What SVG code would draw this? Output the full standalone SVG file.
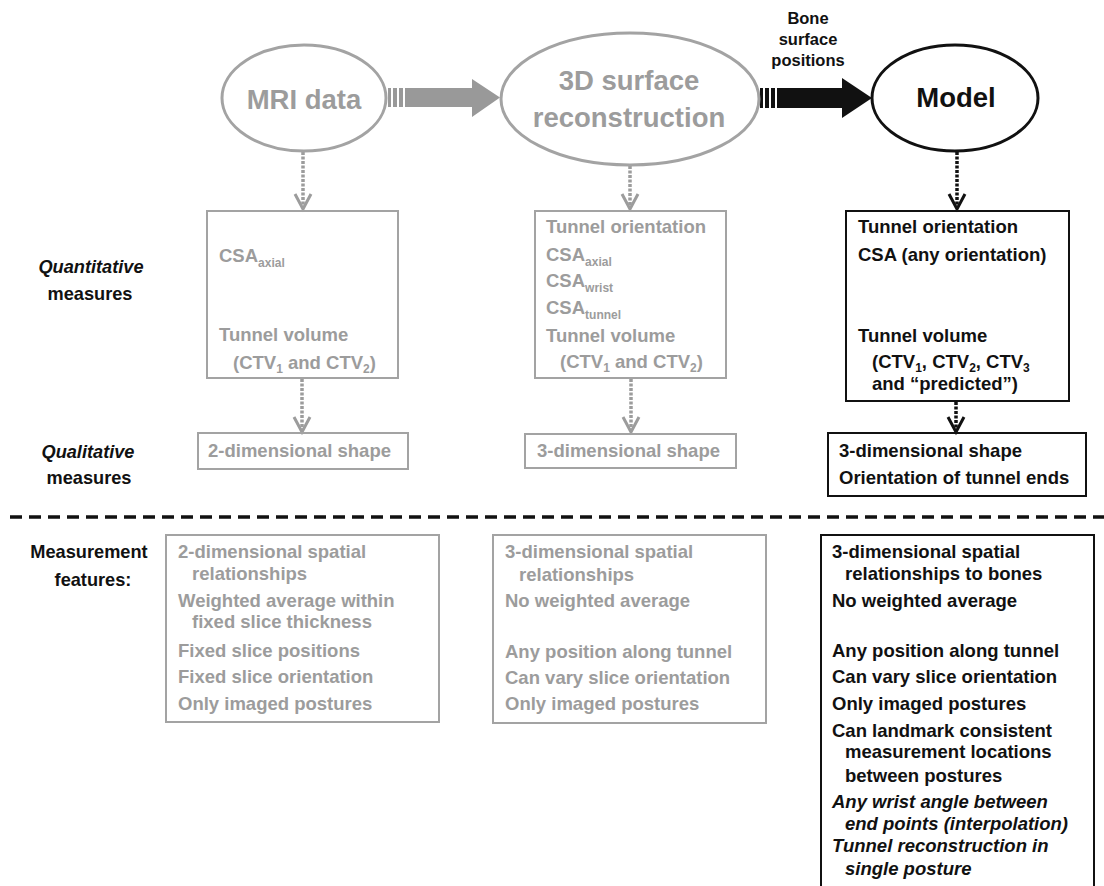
<svg xmlns="http://www.w3.org/2000/svg" width="1104" height="886" viewBox="0 0 1104 886">
<style>
text{font-family:"Liberation Sans",Arial,sans-serif;font-weight:bold;}
.g{fill:#9c9c9c;}
.k{fill:#111;}
.big{font-size:27.5px;}
.t{font-size:18.5px;}
.lab{font-size:18.2px;fill:#111;text-anchor:middle;}
.sub{font-size:12px;}
.it{font-style:italic;}
.gbox{fill:none;stroke:#a3a3a3;stroke-width:2;}
.kbox{fill:none;stroke:#111;stroke-width:2;}
.gell{fill:#fff;stroke:#a3a3a3;stroke-width:3;}
.kell{fill:#fff;stroke:#111;stroke-width:3;}
.gdot{stroke:#9c9c9c;stroke-width:3.5;stroke-dasharray:3 1.5;fill:none;}
.kdot{stroke:#111;stroke-width:3.5;stroke-dasharray:3 1.5;fill:none;}
.gv{stroke:#9c9c9c;stroke-width:3;fill:none;stroke-linejoin:miter;}
.kv{stroke:#111;stroke-width:3;fill:none;stroke-linejoin:miter;}
</style>

<g id="connectors">
  <g id="arrow-mri-3d" fill="#999">
    <rect x="388" y="88" width="3" height="19"/>
    <rect x="393" y="88" width="4" height="19"/>
    <rect x="399" y="88" width="4" height="19"/>
    <path d="M405 88 H472 V79 L500 97.5 L472 117 V107 H405 Z"/>
  </g>
  <g id="arrow-3d-model" fill="#111">
    <rect x="760" y="88" width="3" height="20"/>
    <rect x="765" y="88" width="4" height="20"/>
    <rect x="771" y="88" width="4" height="20"/>
    <path d="M777 88 H842 V78 L872 98 L842 118 V108 H777 Z"/>
  </g>
  <path class="gdot" d="M303 152 V208"/>
  <path class="gv" d="M295 194 L303 209 L311 194"/>
  <path class="gdot" d="M630 166 V208"/>
  <path class="gv" d="M622 194 L630 209 L638 194"/>
  <path class="kdot" d="M957 152 V208"/>
  <path class="kv" d="M949 194 L957 209 L965 194"/>
  <path class="gdot" d="M302 379 V431"/>
  <path class="gv" d="M294 417 L302 432 L310 417"/>
  <path class="gdot" d="M631 379 V431"/>
  <path class="gv" d="M623 417 L631 432 L639 417"/>
  <path class="kdot" d="M956 402 V430"/>
  <path class="kv" d="M948 417 L956 432 L964 417"/>
</g>

<g id="label-bone">
  <text class="k" font-size="16.5" text-anchor="middle" x="808" y="24">Bone</text>
  <text class="k" font-size="16.5" text-anchor="middle" x="808" y="45">surface</text>
  <text class="k" font-size="16.5" text-anchor="middle" x="808" y="66">positions</text>
</g>

<g id="node-mri">
  <ellipse class="gell" cx="304" cy="98" rx="82" ry="53"/>
  <text class="g big" text-anchor="middle" x="304" y="109">MRI data</text>
</g>
<g id="node-3d">
  <ellipse class="gell" cx="630" cy="99" rx="129" ry="66"/>
  <text class="g big" text-anchor="middle" x="629" y="90">3D surface</text>
  <text class="g big" text-anchor="middle" x="629" y="127">reconstruction</text>
</g>
<g id="node-model">
  <ellipse class="kell" cx="955" cy="98" rx="83" ry="53"/>
  <text class="k big" text-anchor="middle" x="956" y="107">Model</text>
</g>

<g id="row-labels">
  <text class="lab it" x="91" y="273">Quantitative</text>
  <text class="lab" x="90" y="300">measures</text>
  <text class="lab it" x="88" y="458">Qualitative</text>
  <text class="lab" x="89" y="484">measures</text>
  <text class="lab" x="89" y="558">Measurement</text>
  <text class="lab" x="93" y="586">features:</text>
</g>

<g id="quant-mri">
  <rect class="gbox" x="207" y="211" width="191" height="167"/>
  <text class="g t" x="219" y="262">CSA<tspan class="sub" dy="5">axial</tspan></text>
  <text class="g t" x="219" y="341">Tunnel volume</text>
  <text class="g t" x="233" y="369">(CTV<tspan class="sub" dy="4">1</tspan><tspan dy="-4"> and CTV</tspan><tspan class="sub" dy="4">2</tspan><tspan dy="-4">)</tspan></text>
</g>

<g id="quant-3d">
  <rect class="gbox" x="535" y="211" width="191" height="167"/>
  <text class="g t" x="546" y="233">Tunnel orientation</text>
  <text class="g t" x="546" y="261">CSA<tspan class="sub" dy="5">axial</tspan></text>
  <text class="g t" x="546" y="287">CSA<tspan class="sub" dy="5">wrist</tspan></text>
  <text class="g t" x="546" y="314">CSA<tspan class="sub" dy="5">tunnel</tspan></text>
  <text class="g t" x="546" y="342">Tunnel volume</text>
  <text class="g t" x="560" y="368">(CTV<tspan class="sub" dy="4">1</tspan><tspan dy="-4"> and CTV</tspan><tspan class="sub" dy="4">2</tspan><tspan dy="-4">)</tspan></text>
</g>

<g id="quant-model">
  <rect class="kbox" x="846" y="211" width="223" height="190"/>
  <text class="k t" x="858" y="233">Tunnel orientation</text>
  <text class="k t" x="858" y="261">CSA (any orientation)</text>
  <text class="k t" x="858" y="342">Tunnel volume</text>
  <text class="k t" x="872" y="368">(CTV<tspan class="sub" dy="4">1</tspan><tspan dy="-4">, CTV</tspan><tspan class="sub" dy="4">2</tspan><tspan dy="-4">, CTV</tspan><tspan class="sub" dy="4">3</tspan></text>
  <text class="k t" x="872" y="390">and “predicted”)</text>
</g>

<g id="qual-mri">
  <rect class="gbox" x="198" y="433" width="210" height="36"/>
  <text class="g t" x="208" y="457">2-dimensional shape</text>
</g>
<g id="qual-3d">
  <rect class="gbox" x="525" y="434" width="211" height="34"/>
  <text class="g t" x="537" y="457">3-dimensional shape</text>
</g>
<g id="qual-model">
  <rect class="kbox" x="828" y="433" width="258" height="63"/>
  <text class="k t" x="839" y="457">3-dimensional shape</text>
  <text class="k t" x="839" y="484">Orientation of tunnel ends</text>
</g>

<line id="separator" x1="10" y1="517" x2="1104" y2="517" stroke="#111" stroke-width="3.5" stroke-dasharray="12 7"/>

<g id="features-mri">
  <rect class="gbox" x="166" y="535" width="273" height="187"/>
  <text class="g t" x="178" y="558">2-dimensional spatial</text>
  <text class="g t" x="192" y="580">relationships</text>
  <text class="g t" x="178" y="607">Weighted average within</text>
  <text class="g t" x="192" y="628">fixed slice thickness</text>
  <text class="g t" x="178" y="657">Fixed slice positions</text>
  <text class="g t" x="178" y="683">Fixed slice orientation</text>
  <text class="g t" x="178" y="710">Only imaged postures</text>
</g>

<g id="features-3d">
  <rect class="gbox" x="493" y="535" width="273" height="188"/>
  <text class="g t" x="505" y="558">3-dimensional spatial</text>
  <text class="g t" x="519" y="581">relationships</text>
  <text class="g t" x="505" y="607">No weighted average</text>
  <text class="g t" x="505" y="658">Any position along tunnel</text>
  <text class="g t" x="505" y="684">Can vary slice orientation</text>
  <text class="g t" x="505" y="710">Only imaged postures</text>
</g>

<g id="features-model">
  <rect class="kbox" x="821" y="535" width="273" height="400"/>
  <text class="k t" x="832" y="558">3-dimensional spatial</text>
  <text class="k t" x="845" y="580">relationships to bones</text>
  <text class="k t" x="832" y="607">No weighted average</text>
  <text class="k t" x="832" y="657">Any position along tunnel</text>
  <text class="k t" x="832" y="683">Can vary slice orientation</text>
  <text class="k t" x="832" y="710">Only imaged postures</text>
  <text class="k t" x="832" y="737">Can landmark consistent</text>
  <text class="k t" x="845" y="758">measurement locations</text>
  <text class="k t" x="845" y="782">between postures</text>
  <text class="k t it" x="832" y="808">Any wrist angle between</text>
  <text class="k t it" x="845" y="830">end points (interpolation)</text>
  <text class="k t it" x="832" y="852">Tunnel reconstruction in</text>
  <text class="k t it" x="845" y="875">single posture</text>
</g>
</svg>
